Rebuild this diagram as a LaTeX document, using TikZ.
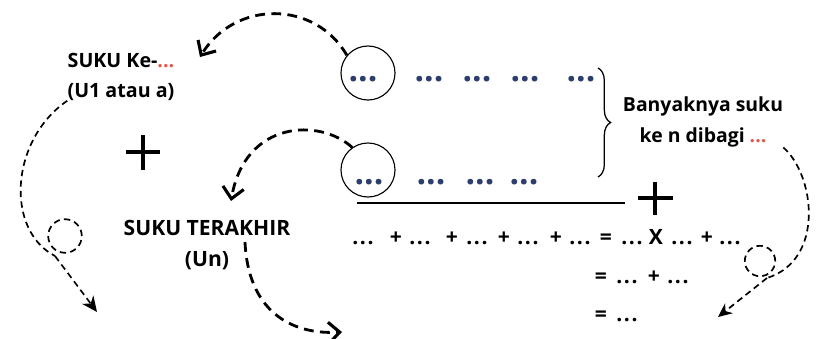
\documentclass[tikz,border=0pt]{standalone}
\usepackage{fontspec}
\setmainfont{Open Sans}
\usetikzlibrary{arrows.meta,decorations.pathreplacing}

\definecolor{titik}{HTML}{2C3E6B}
\definecolor{merah}{HTML}{E2574C}
\newcommand{\tanya}{\textcolor{merah}{...}}
\newcommand{\td}{.\kern1.2pt.\kern1.2pt.}

\begin{document}
\begin{tikzpicture}[x=0.025cm, y=-0.025cm,
    teks/.style={font=\bfseries\fontsize{14}{21}\selectfont, align=center, inner sep=0pt},
    teksbesar/.style={font=\bfseries\fontsize{15}{22}\selectfont, align=center, inner sep=0pt},
    rumus/.style={font=\bfseries\fontsize{15}{15}\selectfont, inner sep=0pt, anchor=base},
    titikbiru/.style={font=\bfseries\fontsize{24}{24}\selectfont, text=titik, inner sep=0pt, anchor=base},
    putus/.style={line width=2pt, dash pattern=on 7pt off 4.5pt, -{Straight Barb[length=8pt,width=15pt,line width=2.2pt]}},
    putuskecil/.style={line width=1.2pt, dash pattern=on 4.5pt off 3pt}]
    \useasboundingbox (0,0) rectangle (816,338);

    % Suku pertama dan suku terakhir
    \node[teks] (suku1) at (121,77) {SUKU Ke-\tanya\\(U1 atau a)};
    \node[teksbesar] (sukun) at (207,245) {SUKU TERAKHIR\\(Un)};
    \draw[line width=2.4pt] (126,152) -- (160,152);
    \draw[line width=2.4pt] (143,135) -- (143,170);

    % Baris bilangan
    \node[circle, draw, line width=0.8pt, minimum size=1.35cm] (c1) at (368,73) {};
    \node[circle, draw, line width=0.8pt, minimum size=1.35cm] (c2) at (368,170) {};
    \foreach \x [count=\i] in {363,429,477,525,581}
        \node[titikbiru] (a\i) at (\x,81) {...};
    \foreach \x [count=\i] in {369,431,480,524}
        \node[titikbiru] (b\i) at (\x,184) {...};
    \draw[line width=0.9pt, decorate, decoration={brace, amplitude=9pt}] (598,68) -- (598,177);
    \node[teks, font=\bfseries\fontsize{13.8}{22}\selectfont] (banyak) at (703,122) {Banyaknya suku\\ke n dibagi \tanya};

    % Penjumlahan
    \draw[line width=1.2pt] (357,203) -- (625,203);
    \draw[line width=2.4pt] (638,198) -- (673,198);
    \draw[line width=2.4pt] (655,182) -- (655,215);
    \foreach \x/\t [count=\i] in {363/\td, 396/+, 420/\td, 452/+, 477/\td, 504/+, 528/\td,
            556/+, 580/\td, 606/=, 632/\td, 656/X, 682/\td, 707/+, 730/\td}
        \node[rumus] (e\i) at (\x,244) {\t};
    \foreach \x/\t [count=\i] in {601/=, 627/\td, 654/+, 678/\td}
        \node[rumus] (f\i) at (\x,283) {\t};
    \foreach \x/\t [count=\i] in {601/=, 627/\td}
        \node[rumus] (g\i) at (\x,321) {\t};

    % Panah putus-putus
    \coordinate (p1) at (200,57);
    \coordinate (p2) at (231,201);
    \coordinate (q1) at (55,256);
    \coordinate (p3) at (97,312);
    \coordinate (r1) at (245,242);
    \coordinate (p4) at (342,332);
    \coordinate (s1) at (767,278);
    \coordinate (p5) at (718,317);
    \draw[putus] (c1.140) .. controls (315,0) and (235,0) .. (p1);
    \draw[putus] (c2.125) .. controls (320,118) and (245,120) .. (p2);
    \draw[putuskecil] (suku1.south west) .. controls (10,140) and (5,230) .. (q1);
    \draw[putuskecil] (65,236) circle (0.42cm);
    \draw[putuskecil, -{Stealth[length=11pt,width=10pt]}] (q1) -- (p3);
    \draw[putus] (r1) .. controls (248,310) and (290,335) .. (p4);
    \draw[putuskecil] (banyak.south east) .. controls (815,175) and (825,260) .. (s1);
    \draw[putuskecil] (760,261) circle (0.38cm);
    \draw[putuskecil, -{Stealth[length=10pt,width=9pt]}] (s1) -- (p5);
\end{tikzpicture}
\end{document}
